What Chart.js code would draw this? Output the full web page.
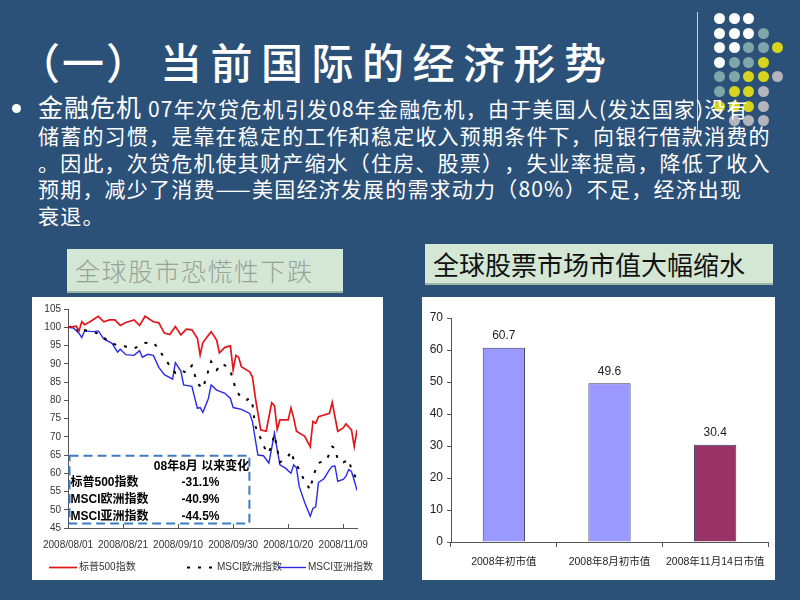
<!DOCTYPE html>
<html><head><meta charset="utf-8">
<script src="https://cdn.jsdelivr.net/npm/chart.js@4.4.1/dist/chart.umd.min.js"></script>
<style>
html,body{margin:0;padding:0;}
body{width:800px;height:600px;background:#2c5179;position:relative;overflow:hidden;font-family:"Noto Sans CJK SC","Noto Sans",sans-serif;color:#fff;text-spacing-trim:space-all;}
#vline{position:absolute;left:697px;top:12px;width:1px;height:128px;background:#c9d3dc;}
.dot{position:absolute;width:11px;height:11px;border-radius:50%;}
#title{position:absolute;left:18px;top:31px;font-size:42px;white-space:nowrap;line-height:60px;font-weight:500;}
#title .p{letter-spacing:2px;}
#title .t{letter-spacing:8.5px;margin-left:10px;}
#bullet{position:absolute;left:12px;top:104px;width:9px;height:9px;border-radius:50%;background:#fff;}
#para{position:absolute;left:38px;top:93px;font-size:21px;letter-spacing:1.2px;line-height:26.8px;white-space:nowrap;}
#para .big{font-size:25px;letter-spacing:1px;}
.sub{position:absolute;background:#d4e7d5;border-bottom:2px solid #9fb5a8;white-space:nowrap;box-sizing:border-box;}
#subL{left:67px;top:249px;width:276px;height:44px;color:#97a397;font-size:25px;line-height:42px;padding-left:8px;letter-spacing:1.5px;font-weight:300;}
#subR{left:425px;top:244px;width:348px;height:41px;color:#111;font-size:26px;line-height:39px;padding-left:8px;}
.panel{position:absolute;background:#fff;}
#pL{left:32px;top:297px;width:351px;height:283px;}
#pR{left:422px;top:297px;width:353px;height:283px;}
canvas{display:block;}
</style></head>
<body>
<div id="vline"></div>
<div id="dots"></div>
<div id="title"><span class="p">（一）</span><span class="t">当前国际的经济形势</span></div>
<div id="bullet"></div>
<div id="para"><span class="big">金融危机</span> 07年次贷危机引发08年金融危机，由于美国人(发达国家)没有<br>储蓄的习惯，是靠在稳定的工作和稳定收入预期条件下，向银行借款消费的<br>。因此，次贷危机使其财产缩水（住房、股票），失业率提高，降低了收入<br>预期，减少了消费——美国经济发展的需求动力（80%）不足，经济出现<br>衰退。</div>
<div class="sub" id="subL">全球股市恐慌性下跌</div>
<div class="sub" id="subR">全球股票市场市值大幅缩水</div>
<div class="panel" id="pL"><canvas id="cL" width="351" height="283"></canvas></div>
<div class="panel" id="pR"><canvas id="cR" width="353" height="283"></canvas></div>
<script>
// ---------- data: line chart ----------
const lineTickLabels = ["2008/08/01","2008/08/21","2008/09/10","2008/09/30","2008/10/20","2008/11/09"];
const seriesNames = ["标普500指数","MSCI欧洲指数","MSCI亚洲指数"];
const spDates = ["2008/08/01","2008/08/04","2008/08/05","2008/08/06","2008/08/07","2008/08/09","2008/08/12","2008/08/14","2008/08/16","2008/08/18",
 "2008/08/20","2008/08/22","2008/08/25","2008/08/27","2008/08/29","2008/09/01","2008/09/03","2008/09/05","2008/09/07","2008/09/09",
 "2008/09/11","2008/09/13","2008/09/15","2008/09/17","2008/09/18","2008/09/19","2008/09/22","2008/09/24","2008/09/25","2008/09/27",
 "2008/09/29","2008/09/30","2008/10/01","2008/10/02","2008/10/03","2008/10/06","2008/10/07","2008/10/08","2008/10/09","2008/10/10",
 "2008/10/12","2008/10/14","2008/10/15","2008/10/16","2008/10/17","2008/10/20","2008/10/21","2008/10/22","2008/10/23","2008/10/26",
 "2008/10/28","2008/10/29","2008/10/30","2008/10/31","2008/11/04","2008/11/05","2008/11/07","2008/11/09","2008/11/10","2008/11/12",
 "2008/11/13","2008/11/14"];
const spValues = [100,100.3,99,101.5,100.7,101.5,103,101.5,102,102,
 100.5,101.3,102,100.5,103,101.5,101.2,98.4,98,100.2,
 97.9,99.5,99.3,97,92.4,95.8,98.8,96.5,93,94.5,
 94.9,88.3,92.3,91.8,89.2,87.8,86.4,81,76.5,71.9,
 71.5,79.3,78.5,72,74.6,74.6,77.9,75.1,71.5,70.1,
 67.3,74.2,73.7,75.5,76.4,79.4,71.5,72.4,73.5,71.9,
 67.3,71.9];
const euDates = ["2008/08/01","2008/08/04","2008/08/05","2008/08/07","2008/08/12","2008/08/16","2008/08/19","2008/08/23","2008/08/25","2008/08/29",
 "2008/09/01","2008/09/03","2008/09/05","2008/09/07","2008/09/09","2008/09/11","2008/09/13","2008/09/15","2008/09/17","2008/09/19",
 "2008/09/22","2008/09/24","2008/09/26","2008/09/28","2008/09/29","2008/09/30","2008/10/01","2008/10/03","2008/10/05","2008/10/06",
 "2008/10/07","2008/10/08","2008/10/10","2008/10/12","2008/10/13","2008/10/15","2008/10/17","2008/10/20","2008/10/21","2008/10/22",
 "2008/10/24","2008/10/26","2008/10/28","2008/10/29","2008/10/30","2008/10/31","2008/11/03","2008/11/05","2008/11/06","2008/11/07",
 "2008/11/09","2008/11/11","2008/11/12","2008/11/14"];
const euValues = [100,100.3,98.3,99.2,98.3,96,95,94.6,94.2,95.7,
 95.8,94,91.5,89.5,87.5,88.3,87.5,89.5,84.6,83.2,
 90.6,88.3,90.1,89,88,85.6,82.8,80.6,80.1,80.6,
 79,73,69.5,66,65.5,70.5,63,64.6,66,63.7,
 61,57.8,55.5,59,61,62.8,63.7,67.3,66.9,63.7,
 63,63.7,61,58.2];
const asDates = ["2008/08/01","2008/08/03","2008/08/05","2008/08/06","2008/08/07","2008/08/10","2008/08/12","2008/08/14","2008/08/17","2008/08/19",
 "2008/08/20","2008/08/22","2008/08/25","2008/08/27","2008/08/28","2008/08/30","2008/09/01","2008/09/03","2008/09/05","2008/09/08",
 "2008/09/09","2008/09/11","2008/09/12","2008/09/15","2008/09/17","2008/09/18","2008/09/19","2008/09/21","2008/09/22","2008/09/24",
 "2008/09/27","2008/09/29","2008/09/30","2008/10/03","2008/10/06","2008/10/07","2008/10/08","2008/10/09","2008/10/11","2008/10/13",
 "2008/10/15","2008/10/16","2008/10/17","2008/10/19","2008/10/21","2008/10/22","2008/10/23","2008/10/24","2008/10/26","2008/10/28",
 "2008/10/29","2008/10/30","2008/10/31","2008/11/02","2008/11/04","2008/11/05","2008/11/06","2008/11/07","2008/11/09","2008/11/10",
 "2008/11/11","2008/11/12","2008/11/13","2008/11/14"];
const asValues = [100,99.8,98.3,97.2,99,98.8,99,96.8,95.6,93.2,
 94,92.5,92.3,93.6,91.8,92.6,92.3,89,87,85.8,
 90.3,88,84.2,83.8,77.8,78,76.7,80.5,84.2,82.8,
 81.9,80.5,78,77.5,76.4,74.2,69.5,65,64.8,62.8,
 71,66.5,62.3,61.4,60,62.3,61.5,56.4,52,48.2,
 50.4,50.8,57.5,58.5,61,61.9,62,57.8,58.3,59.2,
 61,60.5,58,55.3];
const tableHeader = "08年8月 以来变化";
const tableChanges = ["-31.1%","-40.9%","-44.5%"];
// ---------- data: bar chart ----------
const barCategories = ["2008年初市值","2008年8月初市值","2008年11月14日市值"];
const barValues = [60.7,49.6,30.4];
const barColors = ["#9999ff","#9999ff","#993366"];

// ---------- decoration dots ----------
const dotRows = ["WWW","WWWT","WWTTY","WTTY","TTYYG","TYYG","YYYG"," GGG"];
const dotCol = {W:"#ffffff",T:"#7fa6a8",Y:"#d6d41e",G:"#b4b4bc"};
const dotsEl = document.getElementById('dots');
dotRows.forEach((row,r)=>{
  [...row].forEach((c,k)=>{
    if(c===' ')return;
    const d=document.createElement('div');
    d.className='dot';
    d.style.left=(714+k*14.5)+'px';
    d.style.top=(13+r*14.6)+'px';
    d.style.background=dotCol[c];
    dotsEl.appendChild(d);
  });
});

Chart.defaults.font.family = '"Liberation Sans","Noto Sans CJK SC",sans-serif';
const base = Date.UTC(2008,7,1);
function dayOf(s){const [y,m,d]=s.split('/').map(Number);return (Date.UTC(y,m-1,d)-base)/86400000;}
function toXY(dates,vals){return dates.map((d,i)=>({x:dayOf(d),y:vals[i]}));}

const innerTicks = {
  id:'innerTicks',
  afterDatasetsDraw(chart){
    const {ctx, scales:{x}, chartArea} = chart;
    ctx.save(); ctx.strokeStyle='#555'; ctx.lineWidth=1;
    x.ticks.forEach(t=>{
      if(t.value<=0) return;
      const px = Math.round(x.getPixelForValue(t.value))+0.5;
      ctx.beginPath(); ctx.moveTo(px, chartArea.bottom); ctx.lineTo(px, chartArea.bottom-4); ctx.stroke();
    });
    ctx.restore();
  }
};
const summaryBox = {
  id:'summaryBox',
  afterDatasetsDraw(chart){
    const {ctx, scales:{x,y}} = chart;
    const l = x.getPixelForValue(0)+1.5, r = x.getPixelForValue(65.9);
    const t = y.getPixelForValue(64.8), b = y.getPixelForValue(46.2);
    ctx.save();
    ctx.setLineDash([9,5]); ctx.strokeStyle='#3d7cc0'; ctx.lineWidth=2;
    ctx.strokeRect(l,t,r-l,b-t);
    ctx.setLineDash([]);
    ctx.fillStyle='#000';
    ctx.font='bold 12px "Liberation Sans","Noto Sans CJK SC"';
    ctx.textBaseline='middle';
    ctx.textAlign='center';
    ctx.fillText(tableHeader, l+132, t+11);
    seriesNames.forEach((n,i)=>{
      ctx.textAlign='left';
      ctx.fillText(n, l+1, t+27+i*17);
      ctx.textAlign='center';
      ctx.fillText(tableChanges[i], l+131, t+27+i*17);
    });
    ctx.restore();
  }
};
const customLegend = {
  id:'customLegend',
  afterDraw(chart){
    const {ctx} = chart;
    const y = 270.5;
    const starts = [17,155,246];
    chart.data.datasets.forEach((ds,i)=>{
      const x0 = starts[i];
      ctx.save();
      ctx.strokeStyle = ds.borderColor; ctx.lineWidth = ds.borderWidth;
      ctx.setLineDash(ds.borderDash || []);
      ctx.beginPath(); ctx.moveTo(x0,y); ctx.lineTo(x0+28,y); ctx.stroke();
      ctx.setLineDash([]);
      ctx.fillStyle='#333'; ctx.font='10px "Liberation Sans","Noto Sans CJK SC"';
      ctx.textBaseline='middle'; ctx.textAlign='left';
      ctx.fillText(ds.label, x0+30, y);
      ctx.restore();
    });
  }
};

new Chart(document.getElementById('cL'), {
  type:'line',
  data:{datasets:[
    {label:seriesNames[0], data:toXY(spDates,spValues), borderColor:'#e3161b', borderWidth:1.7, pointRadius:0, tension:0, order:1},
    {label:seriesNames[1], data:toXY(euDates,euValues), borderColor:'#000000', borderWidth:2, borderDash:[3,8], pointRadius:0, tension:0, order:2},
    {label:seriesNames[2], data:toXY(asDates,asValues), borderColor:'#2b2be6', borderWidth:1.4, pointRadius:0, tension:0, order:3}
  ]},
  options:{
    responsive:false, animation:false,
    layout:{padding:{top:12,right:26,left:0,bottom:30}},
    plugins:{legend:{display:false}, tooltip:{enabled:false}},
    scales:{
      x:{type:'linear', min:0, max:105,
         ticks:{stepSize:20, includeBounds:false, autoSkip:false, maxRotation:0, color:'#333', font:{size:10}, padding:11,
                callback:v=>lineTickLabels[v/20]||''},
         grid:{display:true, drawOnChartArea:false, drawTicks:false},
         border:{color:'#555'},
         afterFit:s=>{s.height=22;}},
      y:{min:45, max:105,
         ticks:{stepSize:5, color:'#333', font:{size:10}, padding:3},
         grid:{drawOnChartArea:false, tickLength:4, color:'#555'},
         border:{color:'#555'},
         afterFit:s=>{s.width=33;}}
    }
  },
  plugins:[innerTicks, summaryBox, customLegend]
});

const barLabels = {
  id:'barLabels',
  afterDatasetsDraw(chart){
    const {ctx} = chart;
    const meta = chart.getDatasetMeta(0);
    ctx.save(); ctx.fillStyle='#222'; ctx.font='12px "Liberation Sans"';
    ctx.textAlign='center'; ctx.textBaseline='middle';
    meta.data.forEach((bar,i)=>{ ctx.fillText(barValues[i].toFixed(1), bar.x, bar.y-12); });
    ctx.restore();
  }
};

new Chart(document.getElementById('cR'), {
  type:'bar',
  data:{labels:barCategories, datasets:[{data:barValues, backgroundColor:barColors, borderColor:'#3b3b5e', borderWidth:1, barPercentage:0.4, categoryPercentage:1}]},
  options:{
    responsive:false, animation:false,
    layout:{padding:{top:21,right:7,left:0,bottom:0}},
    plugins:{legend:{display:false}, tooltip:{enabled:false}},
    scales:{
      x:{ticks:{color:'#222', font:{size:10.5}, padding:9, maxRotation:0, autoSkip:false},
         grid:{drawOnChartArea:false, tickLength:5, color:'#555', offset:true},
         border:{color:'#555'},
         afterFit:s=>{s.height=38;}},
      y:{min:0, max:70,
         ticks:{stepSize:10, color:'#222', font:{size:12}, padding:4},
         grid:{drawOnChartArea:false, tickLength:4, color:'#555'},
         border:{color:'#555'},
         afterFit:s=>{s.width=29;}}
    }
  },
  plugins:[barLabels]
});
</script>
</body></html>
